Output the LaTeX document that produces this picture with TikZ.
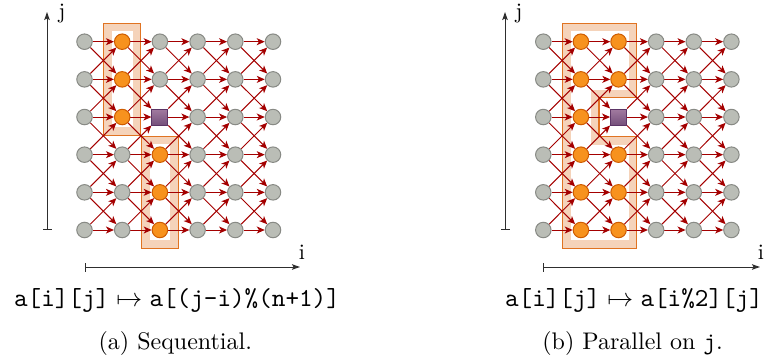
\documentclass[tikz,border=0pt]{standalone}
\usetikzlibrary{arrows.meta}
\definecolor{edgered}{HTML}{A40000}
\definecolor{grayfill}{HTML}{BABDB6}
\definecolor{grayline}{HTML}{888A85}
\definecolor{orfill}{HTML}{F7921E}
\definecolor{orline}{HTML}{CE5C00}
\definecolor{plumtop}{HTML}{A27BA0}
\definecolor{plumbot}{HTML}{75507B}
\definecolor{plumline}{HTML}{5C3566}
\definecolor{peach}{HTML}{F5D3BA}
\definecolor{hlline}{HTML}{E07322}
\definecolor{axisgray}{HTML}{2E2E2E}
\pgfdeclarelayer{bg}
\pgfdeclarelayer{edges}
\pgfsetlayers{bg,edges,main}
\tikzset{
  vtx/.style={circle, draw=grayline, fill=grayfill, line width=1pt, minimum size=15.5pt, inner sep=0pt},
  hot/.style={draw=orline, fill=orfill},
  blk/.style={rectangle, draw=plumline, top color=plumtop, bottom color=plumbot, minimum size=16pt},
  dep/.style={draw=edgered, line width=1pt, -{Stealth[length=8pt,width=7pt,inset=2.2pt]}},
  axis/.style={draw=axisgray, line width=1pt, {Bar[width=9pt]}-{Stealth[length=8pt,width=5.5pt,inset=1.5pt]}},
  band/.style={draw=peach, line width=16pt},
  hlborder/.style={draw=hlline, line width=1.1pt},
  axlbl/.style={inner sep=0pt, scale=2.2, anchor=base},
  formula/.style={inner sep=0pt, scale=2.59, anchor=base},
  capt/.style={inner sep=0pt, scale=2.4, anchor=base},
  % special vertices
  st-L-1-5/.style={hot}, st-L-1-4/.style={hot}, st-L-1-3/.style={hot},
  st-L-2-2/.style={hot}, st-L-2-1/.style={hot}, st-L-2-0/.style={hot},
  st-L-2-3/.style={blk},
  st-R-1-0/.style={hot}, st-R-1-1/.style={hot}, st-R-1-2/.style={hot},
  st-R-1-3/.style={hot}, st-R-1-4/.style={hot}, st-R-1-5/.style={hot},
  st-R-2-0/.style={hot}, st-R-2-1/.style={hot}, st-R-2-2/.style={hot},
  st-R-2-4/.style={hot}, st-R-2-5/.style={hot},
  st-R-2-3/.style={blk},
}
\begin{document}
\begin{tikzpicture}[x=1pt,y=-1pt]
\useasboundingbox (0,0) rectangle (765,358);

% vertices
\foreach \i in {0,...,5}{
  \foreach \j in {0,...,5}{
    \node[vtx, st-L-\i-\j/.try] (L-\i-\j) at ({84.5+37.7*\i},{230-37.66*\j}) {};
    \node[vtx, st-R-\i-\j/.try] (R-\i-\j) at ({543.3+37.62*\i},{230-37.66*\j}) {};
  }
}

% dependences
\begin{pgfonlayer}{edges}
\foreach \p in {L,R}{
  \foreach \i in {0,...,4}{
    \pgfmathtruncatemacro\n{\i+1}
    \foreach \j in {0,...,5}{
      \draw[dep] (\p-\i-\j) -- (\p-\n-\j);
      \ifnum\j<5
        \pgfmathtruncatemacro\u{\j+1}
        \draw[dep] (\p-\i-\j) -- (\p-\n-\u);
      \fi
      \ifnum\j>0
        \pgfmathtruncatemacro\d{\j-1}
        \draw[dep] (\p-\i-\j) -- (\p-\n-\d);
      \fi
    }
  }
}
\end{pgfonlayer}

% highlighted regions
\begin{pgfonlayer}{bg}
  \coordinate (a1) at ([shift={(-18.3,-18.3)}]L-1-5.center);
  \coordinate (a2) at ([shift={(18.3,18.3)}]L-1-3.center);
  \coordinate (b1) at ([shift={(-18.3,-18.3)}]L-2-2.center);
  \coordinate (b2) at ([shift={(18.3,18.3)}]L-2-0.center);
  \begin{scope}
    \clip (a1) rectangle (a2);
    \draw[band] (a1) rectangle (a2);
  \end{scope}
  \begin{scope}
    \clip (b1) rectangle (b2);
    \draw[band] (b1) rectangle (b2);
  \end{scope}
  \draw[hlborder] (a1) rectangle (a2);
  \draw[hlborder] (b1) rectangle (b2);

  \coordinate (hA) at ([shift={(-18.3,-18.3)}]R-1-5.center);
  \coordinate (hB) at ([shift={(18.3,-18.3)}]R-2-5.center);
  \coordinate (hD) at ([shift={(-19.5,-19.5)}]R-2-3.center);
  \coordinate (hE) at ([shift={(-19.5,19.5)}]R-2-3.center);
  \coordinate (hG) at ([shift={(18.3,18.3)}]R-2-0.center);
  \coordinate (hH) at ([shift={(-18.3,18.3)}]R-1-0.center);
  \coordinate (hC) at (hB |- hD);
  \coordinate (hF) at (hG |- hE);
  \begin{scope}
    \clip (hA) -- (hB) -- (hC) -- (hD) -- (hE) -- (hF) -- (hG) -- (hH) -- cycle;
    \draw[band] (hA) -- (hB) -- (hC) -- (hD) -- (hE) -- (hF) -- (hG) -- (hH) -- cycle;
  \end{scope}
  \draw[hlborder] (hA) -- (hB) -- (hC) -- (hD) -- (hE) -- (hF) -- (hG) -- (hH) -- cycle;
\end{pgfonlayer}

% axes
\coordinate (Lj0) at (47,230);
\coordinate (Lj1) at (47,12);
\coordinate (Li0) at (84.5,267);
\coordinate (Li1) at (300,267);
\coordinate (Rj0) at (505,230);
\coordinate (Rj1) at (505,12);
\coordinate (Ri0) at (543.3,267);
\coordinate (Ri1) at (760,267);
\draw[axis] (Lj0) -- (Lj1);
\draw[axis] (Li0) -- (Li1);
\draw[axis] (Rj0) -- (Rj1);
\draw[axis] (Ri0) -- (Ri1);
\node[axlbl] (Ljl) at (62,19) {j};
\node[axlbl] (Lil) at (302,259) {i};
\node[axlbl] (Rjl) at (519,19) {j};
\node[axlbl] (Ril) at (761,259) {i};

% formulas and captions
\node[formula] (fa) at (177,306.5) {$\texttt{a[i][j]}\mapsto\texttt{a[(j-i)\%(n+1)]}$};
\node[formula] (fb) at (634,306.5) {$\texttt{a[i][j]}\mapsto\texttt{a[i\%2][j]}$};
\node[capt] (ca) at (175.3,349) {(a) Sequential.};
\node[capt] (cb) at (632.5,349) {(b) Parallel on \texttt{j}.};
\end{tikzpicture}
\end{document}
